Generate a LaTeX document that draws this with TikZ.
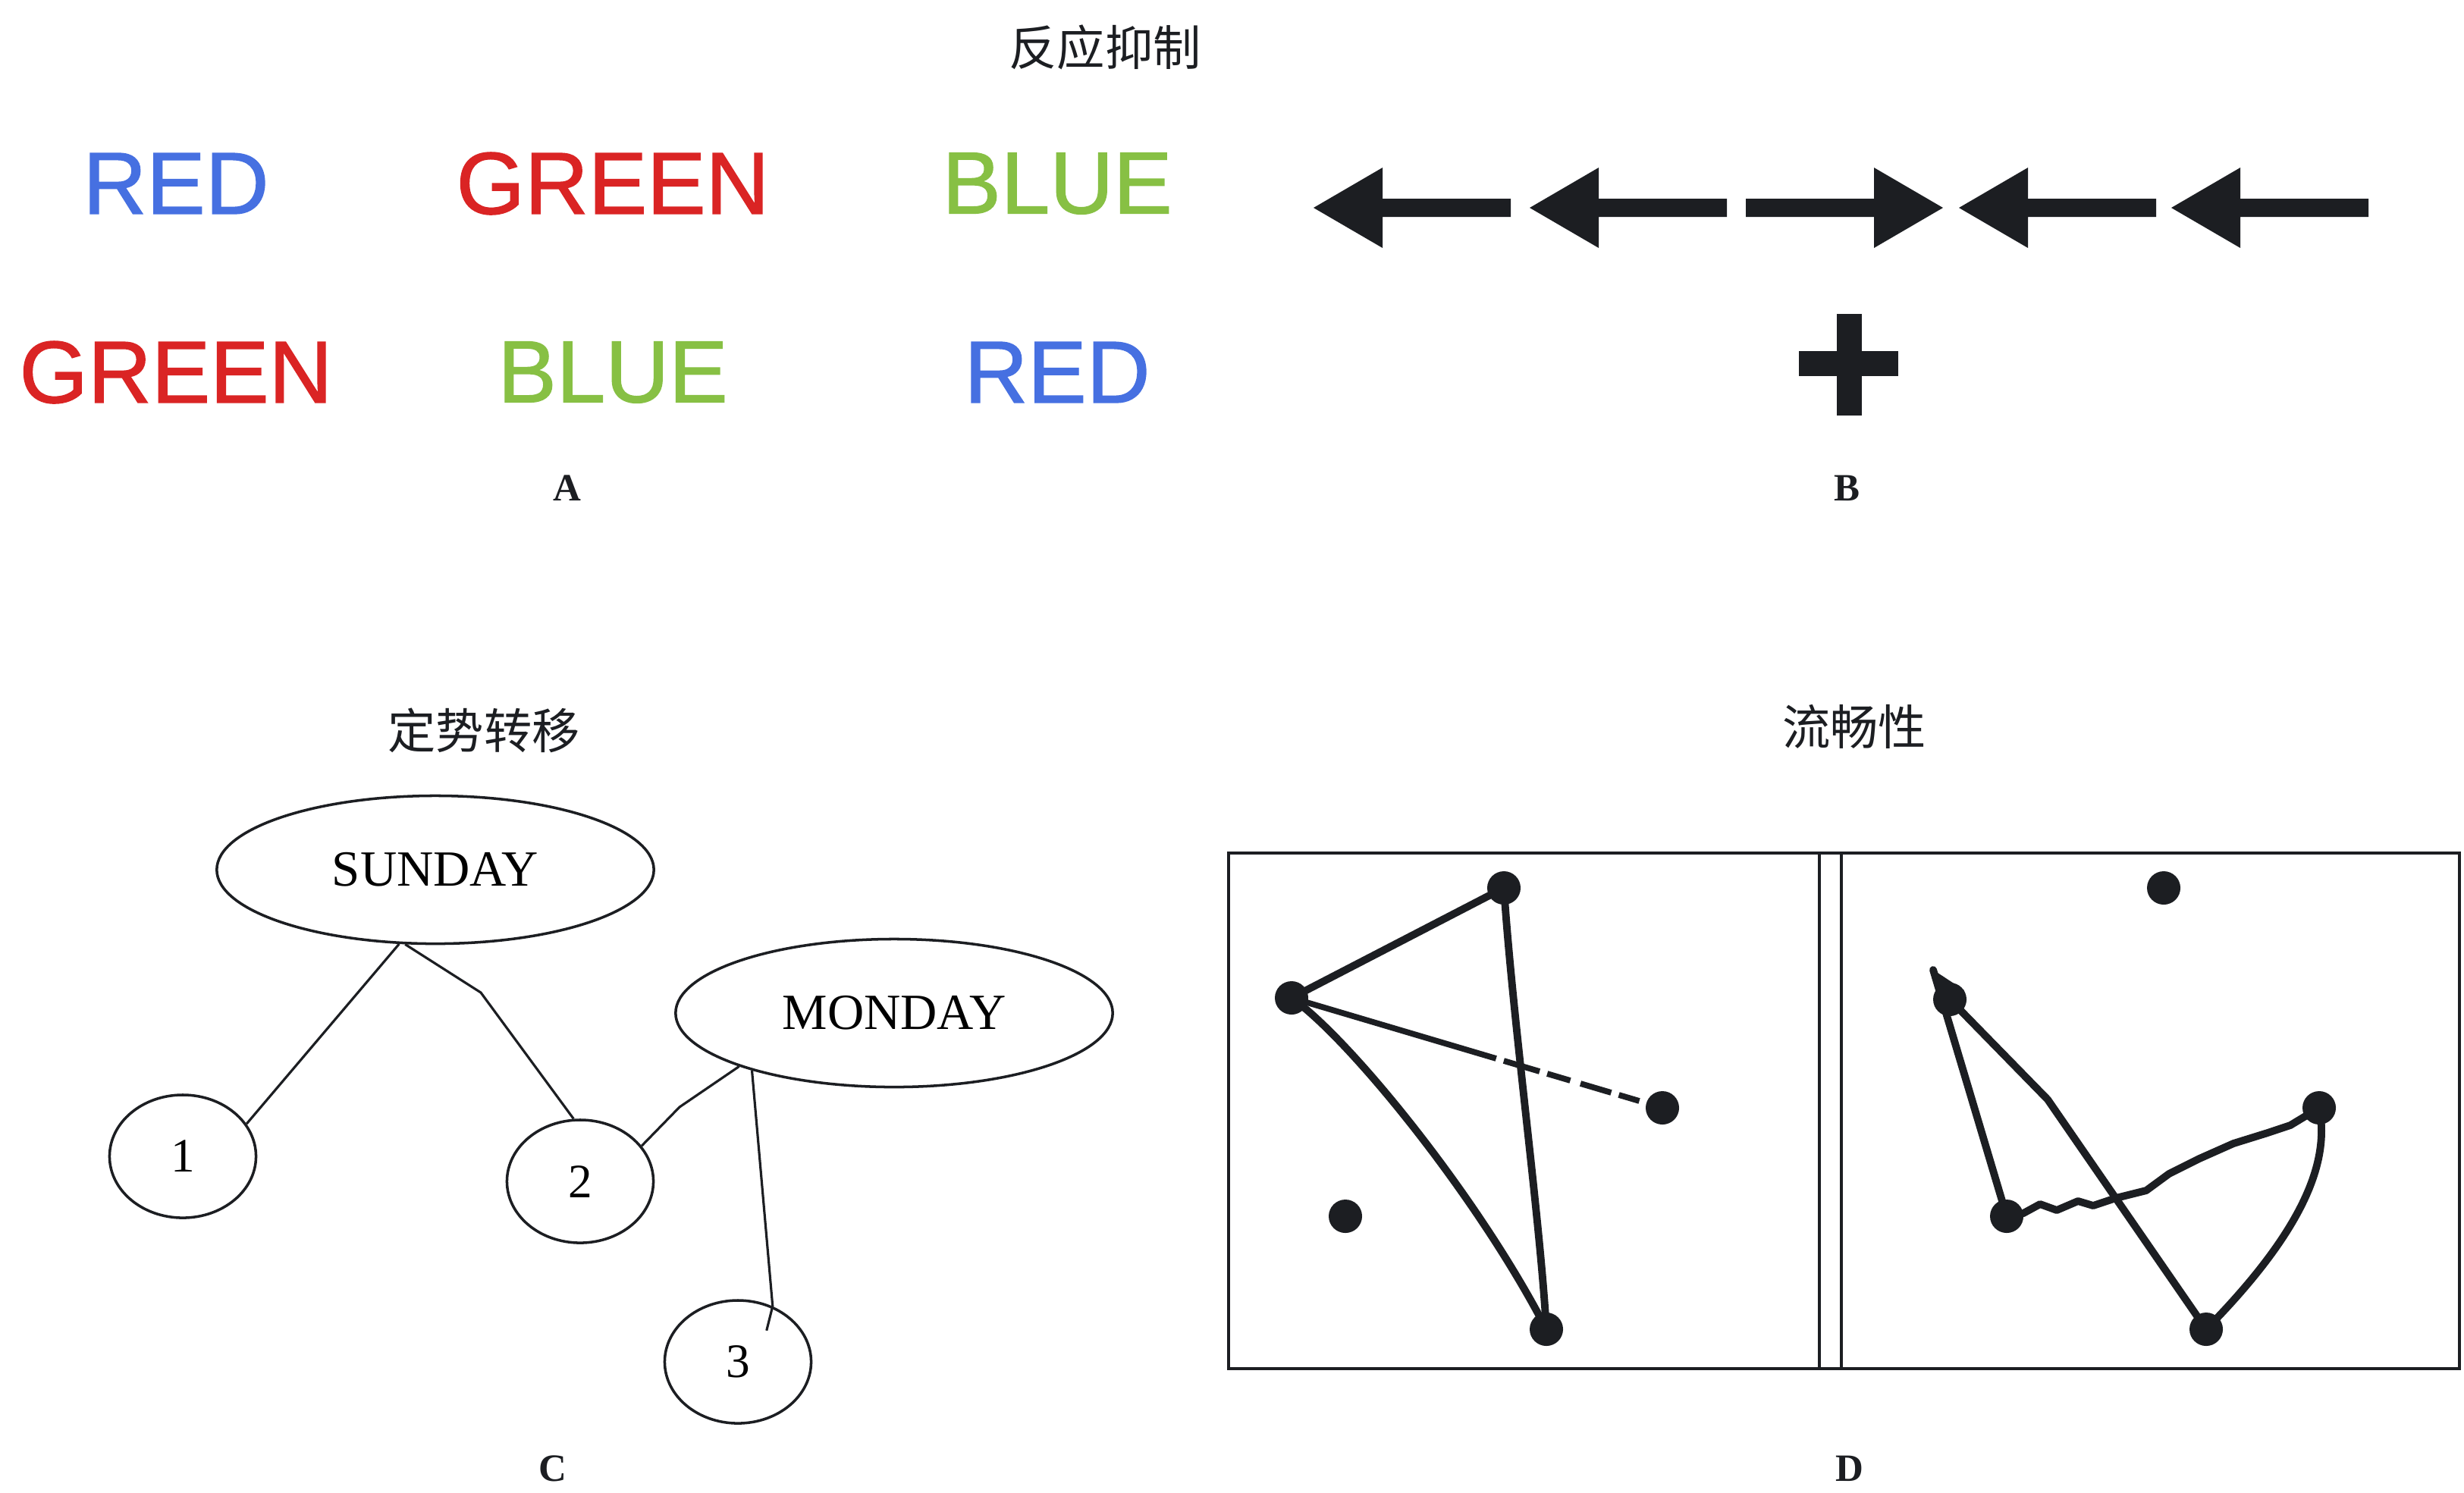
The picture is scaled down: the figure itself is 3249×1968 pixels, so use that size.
\documentclass[tikz,border=0pt]{standalone}
\usepackage{fontspec}
\setmainfont{Liberation Serif}
\newfontfamily\cjk{Noto Sans CJK SC}
\newfontfamily\arialf[BoldFont=Liberation Sans, BoldFeatures={FakeBold=1.2}]{Liberation Sans}
\usetikzlibrary{shapes.geometric}
\definecolor{wblue}{RGB}{70,112,225}
\definecolor{wred}{RGB}{218,36,36}
\definecolor{wgreen}{RGB}{135,192,68}
\definecolor{ink}{RGB}{28,30,34}
\tikzset{
  word/.style={font=\arialf\bfseries\fontsize{33}{33}\selectfont, inner sep=0},
  ttl/.style={font=\cjk\fontsize{18}{18}\selectfont, inner sep=0, text=ink},
  letter/.style={font=\bfseries\fontsize{14.5}{14.5}\selectfont, inner sep=0, text=ink},
  oval/.style={draw=ink, ellipse, line width=1pt, inner sep=0, minimum width=5.76cm, minimum height=1.95cm, font=\fontsize{19}{19}\selectfont},
  numc/.style={draw=ink, ellipse, line width=1pt, inner sep=0, minimum width=1.93cm, minimum height=1.62cm, font=\fontsize{18}{18}\selectfont},
  conn/.style={draw=ink, line width=0.9pt},
  dot/.style={circle, fill=ink, inner sep=0, minimum size=0.44cm},
  hand/.style={draw=ink, line width=2.8pt, line cap=round, line join=round},
  larrow/.pic={\fill[ink] (0,0) -- (91,-53) -- (91,-12) -- (260,-12) -- (260,12) -- (91,12) -- (91,53) -- cycle;}
}
\begin{document}
\begin{tikzpicture}[x=0.01cm,y=-0.01cm]
\useasboundingbox (0,0) rectangle (3249,1968);
\fill[white] (0,0) rectangle (3249,1968);

% ---- A ----
\node[ttl] (t1) at (1457,62) {反应抑制};
\node[word, text=wblue]  (w1) at (232,242) {RED};
\node[word, text=wred]   (w2) at (808,242) {GREEN};
\node[word, text=wgreen] (w3) at (1394,242) {BLUE};
\node[word, text=wred]   (w4) at (232,491) {GREEN};
\node[word, text=wgreen] (w5) at (808,491) {BLUE};
\node[word, text=wblue]  (w6) at (1394,491) {RED};
\node[letter] (la) at (748,644) {A};

% ---- B ----
\pic at (1732,274) {larrow};
\pic at (2017,274) {larrow};
\pic[xscale=-1] at (2562,274) {larrow};
\pic at (2583,274) {larrow};
\pic at (2863,274) {larrow};
\fill[ink] (2422,414) rectangle (2455,548);
\fill[ink] (2372,463) rectangle (2503,496);
\node[letter] (lb) at (2435,644) {B};

% ---- C ----
\node[ttl] (t2) at (638,963) {定势转移};
\node[oval] (sun) at (574,1147) {SUNDAY};
\node[oval] (mon) at (1179,1336) {MONDAY};
\node[numc] (c1) at (241,1525) {1};
\node[numc] (c2) at (765,1558) {2};
\node[numc] (c3) at (973,1796) {3};
\draw[conn] (c1.27) -- (sun.-116);
\draw[conn] (sun.-112) -- (634,1309) -- (c2.96);
\draw[conn] (c2.30) -- (896,1460) -- (mon.-161);
\draw[conn] (mon.-158) -- (c3.58) -- ++(-8,32);
\node[letter] (lc) at (729,1937) {C};

% ---- D ----
\node[ttl] (t3) at (2445,958) {流畅性};
\draw[ink, line width=1.1pt] (1620,1125) rectangle (3243,1805);
\draw[ink, line width=1.1pt] (2399,1125) -- (2399,1805);
\draw[ink, line width=1.1pt] (2428,1125) -- (2428,1805);

\node[dot] (p1) at (1983,1171) {};
\node[dot] (p2) at (1703,1316) {};
\node[dot] (p3) at (2192,1461) {};
\node[dot] (p4) at (1774,1604) {};
\node[dot] (p5) at (2039,1753) {};
\draw[hand] (p2.center) -- (p1.center);
\draw[hand] (p1.center) .. controls (1995,1350) and (2030,1600) .. (p5.center);
\draw[hand] (p2.center) .. controls (1780,1370) and (1950,1580) .. (p5.center);
\draw[hand, line width=2.2pt, line cap=butt, dash pattern=on 80pt off 3pt on 14pt off 3pt on 9pt off 4pt on 12pt off 3pt on 8pt off 3pt on 30pt] (p2.center) -- (p3.center);

\node[dot] (q1) at (2853,1171) {};
\node[dot] (q2) at (2571,1318) {};
\node[dot] (q3) at (3058,1461) {};
\node[dot] (q4) at (2646,1604) {};
\node[dot] (q5) at (2909,1753) {};
\coordinate (qt) at (2549,1279);
\fill[ink] (qt) -- (2590,1306) -- (2560,1330) -- cycle;
\draw[hand] (q4.center) -- (qt);
\draw[hand] (q2.center) -- (2700,1450) -- (q5.center);
\draw[hand] (q4.center) -- (2668,1600) -- (2690,1588) -- (2712,1596) -- (2740,1584) -- (2760,1590) -- (2790,1580) -- (2830,1570) -- (2860,1548) -- (2900,1528) -- (2945,1508) -- (2990,1494) -- (3020,1484) -- (q3.center);
\draw[hand] (q3.center) .. controls (3072,1530) and (3040,1620) .. (q5.center);
\node[letter] (ld) at (2439,1937) {D};
\end{tikzpicture}
\end{document}
